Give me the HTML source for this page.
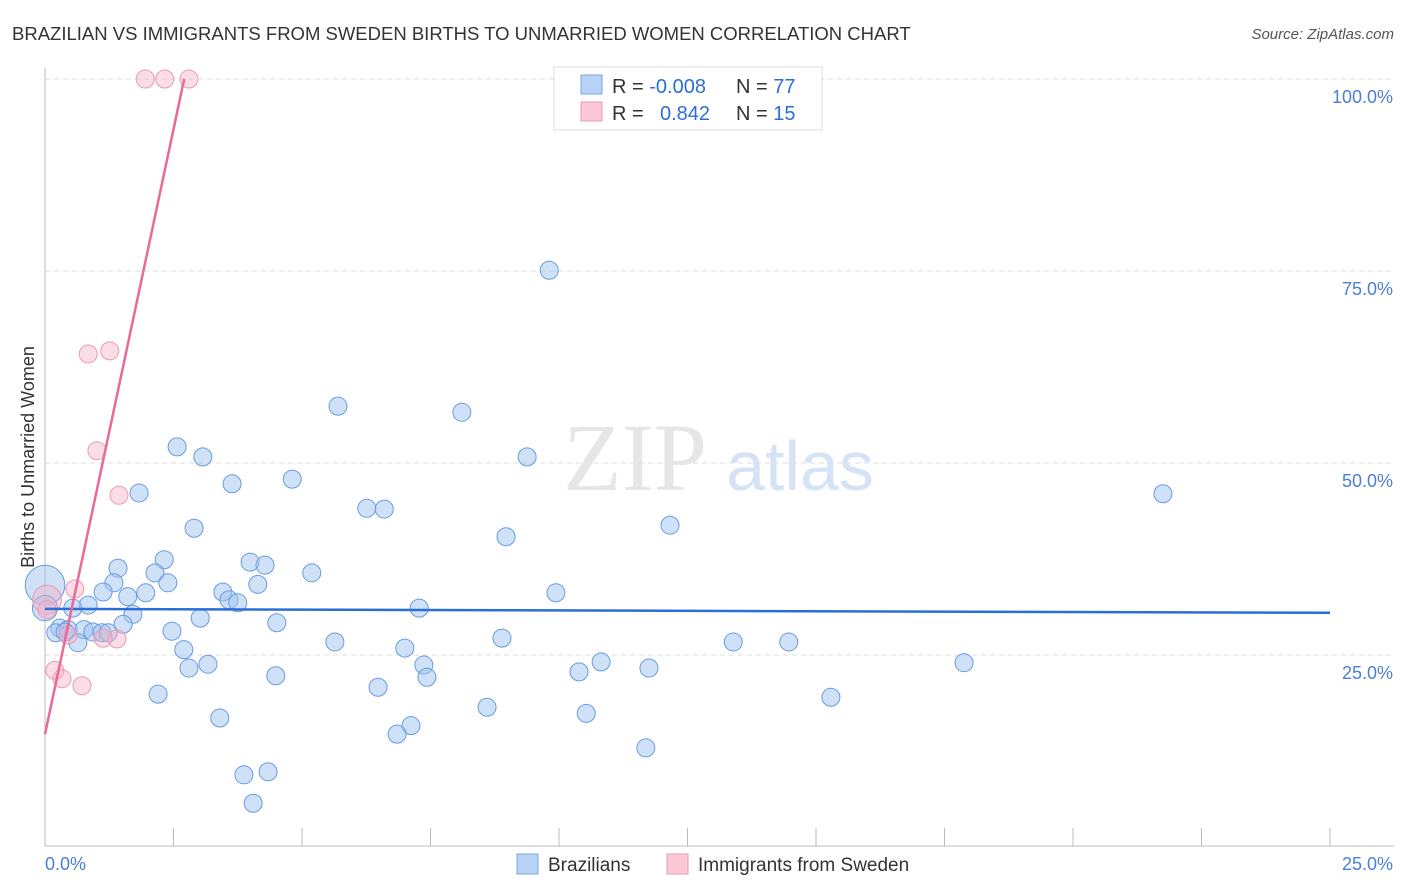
<!DOCTYPE html>
<html><head><meta charset="utf-8"><style>
body{margin:0;background:#fff;font-family:"Liberation Sans",sans-serif;}
svg{display:block}
</style></head><body>
<svg id="chart" width="1406" height="892">
<text x="12" y="40" font-size="18.5" fill="#333">BRAZILIAN VS IMMIGRANTS FROM SWEDEN BIRTHS TO UNMARRIED WOMEN CORRELATION CHART</text>
<text x="1394" y="39" font-size="15" fill="#555" font-style="italic" text-anchor="end">Source: ZipAtlas.com</text>
<g id="grid"></g>
<text x="635" y="490" font-size="96" fill="#e6e6e6" font-family="Liberation Serif,serif" text-anchor="middle">ZIP</text>
<text x="800" y="490" font-size="70" fill="#d5e3f5" text-anchor="middle">atlas</text>
<g id="marks"></g>
<text transform="translate(34,457) rotate(-90)" font-size="18" fill="#333" text-anchor="middle">Births to Unmarried Women</text>
<g>
<rect x="554" y="67" width="268" height="63" fill="#fff" stroke="#ddd"/>
<rect x="581" y="75" width="21" height="19" fill="#b8d2f5" stroke="#7aa6e6"/>
<rect x="581" y="102" width="21" height="19" fill="#fac8d6" stroke="#ee9ab4"/>
<text x="612" y="93" font-size="20" fill="#333">R = <tspan fill="#2a6fd6">-0.008</tspan></text>
<text x="736" y="93" font-size="20" fill="#333">N = <tspan fill="#2a6fd6">77</tspan></text>
<text x="612" y="120" font-size="20" fill="#333">R = <tspan fill="#2a6fd6" x="660">0.842</tspan></text>
<text x="736" y="120" font-size="20" fill="#333">N = <tspan fill="#2a6fd6">15</tspan></text>
</g>
<g>
<rect x="517" y="854" width="21" height="20" fill="#b8d2f5" stroke="#7aa6e6"/>
<text x="548" y="871" font-size="19" fill="#333">Brazilians</text>
<rect x="667" y="854" width="21" height="20" fill="#fac8d6" stroke="#ee9ab4"/>
<text x="698" y="871" font-size="19" fill="#333">Immigrants from Sweden</text>
</g>
</svg>
<script>
const xTicks=[0,2.5,5,7.5,10,12.5,15,17.5,20,22.5,25];
const yTicks=[25,50,75,100];
const yTickLabels=["25.0%","50.0%","75.0%","100.0%"];
const blueX=[9.81,5.70,8.11,2.57,3.07,9.38,3.64,4.81,1.83,21.75,6.26,6.60,2.90,12.16,8.97,2.32,3.99,4.28,1.42,2.14,5.19,1.34,2.39,4.14,3.46,1.13,1.96,1.61,3.58,3.75,9.94,0.84,0.54,7.28,1.71,3.02,1.52,4.51,0.29,0.45,0.76,0.93,1.11,1.23,2.47,0.21,0.64,5.64,8.89,13.39,14.47,7.00,2.70,3.17,10.82,2.80,7.37,7.43,11.75,10.39,4.49,17.88,6.48,2.20,15.29,8.60,10.53,3.40,7.12,6.85,11.69,3.87,4.34,4.05,0.0,0.0,0.39];
const blueY=[75.1,57.4,56.6,52.1,50.8,50.8,47.3,47.9,46.1,46.0,44.1,44.0,41.5,41.9,40.4,37.4,37.1,36.7,36.3,35.7,35.7,34.4,34.4,34.2,33.2,33.2,33.1,32.6,32.2,31.8,33.1,31.5,31.1,31.1,30.3,29.8,29.0,29.2,28.5,28.3,28.3,28.0,27.9,27.9,28.1,27.9,26.6,26.7,27.2,26.7,26.7,25.9,25.7,23.8,24.1,23.3,23.7,22.1,23.3,22.8,22.3,24.0,20.8,19.9,19.5,18.2,17.4,16.8,15.8,14.7,12.9,9.4,9.8,5.7,34.1,31.1,28.0];
const blueSize=[1,1,1,1,1,1,1,1,1,1,1,1,1,1,1,1,1,1,1,1,1,1,1,1,1,1,1,1,1,1,1,1,1,1,1,1,1,1,1,1,1,1,1,1,1,1,1,1,1,1,1,1,1,1,1,1,1,1,1,1,1,1,1,1,1,1,1,1,1,1,1,1,1,1,2.2,1.4,1];
const pinkX=[1.95,2.33,2.80,0.84,1.26,1.01,1.44,0.58,0.04,0.04,1.40,1.13,0.45,0.19,0.33,0.72];
const pinkY=[100,100,100,64.2,64.6,51.6,45.8,33.6,32.2,30.9,27.1,27.2,27.6,23.0,21.9,21.0];
const pinkSize=[1,1,1,1,1,1,1,1,1.6,1,1,1,1,1,1,1];
const blueTrend=[31.0,30.5];
const pinkTrend=[14.7,31.5];
const X=v=>45+v/25*1285, Y=v=>847-v/100*768;
const NS="http://www.w3.org/2000/svg";
function mk(tag,attrs,parent){const e=document.createElementNS(NS,tag);for(const k in attrs)e.setAttribute(k,attrs[k]);parent.appendChild(e);return e;}
const grid=document.getElementById('grid'), marks=document.getElementById('marks');
yTicks.forEach((t,i)=>{
 const l=mk('line',{x1:45,x2:1394,y1:Y(t),y2:Y(t),stroke:'#ddd','stroke-dasharray':'5,4'},grid);
 
 
 const tx=mk('text',{x:1393,y:Y(t)+24,'font-size':18,fill:'#4a7fd8','text-anchor':'end'},grid);
 tx.textContent=yTickLabels[i];
 
 
});
const ax=mk('line',{x1:45,x2:45,y1:68,y2:846,stroke:'#bbb'},grid);


const bx=mk('line',{x1:45,x2:1394,y1:846,y2:846,stroke:'#bbb'},grid);


xTicks.forEach(t=>{
 const l=mk('line',{x1:X(t),x2:X(t),y1:828,y2:846,stroke:'#bbb'},grid);
 
 
});
[[0,"0.0%","start",45],[25,"25.0%","end",1393]].forEach(a=>{
 const tx=mk('text',{x:a[3],y:870,'font-size':18,fill:'#4a7fd8','text-anchor':a[2]},grid);
 tx.textContent=a[1];
 
 
});
blueX.forEach((v,i)=>{
 const c=mk('circle',{cx:X(v),cy:Y(blueY[i]),r:9*blueSize[i],fill:'rgba(160,195,240,0.5)',stroke:'#6a9be0','stroke-width':1},marks);
 
 
});
pinkX.forEach((v,i)=>{
 const c=mk('circle',{cx:X(v),cy:Y(pinkY[i]),r:9*pinkSize[i],fill:'rgba(245,180,200,0.45)',stroke:'#eb9ab3','stroke-width':1},marks);
 
 
});
const bl=mk('line',{x1:X(0),y1:Y(blueTrend[0]),x2:X(25),y2:Y(blueTrend[1]),stroke:'#2a6fd6','stroke-width':2.5},marks);


const px2=(100-pinkTrend[0])/pinkTrend[1];
const pl=mk('line',{x1:X(0),y1:Y(pinkTrend[0]),x2:X(px2),y2:Y(100),stroke:'#e8699a','stroke-width':2.5},marks);


</script>
</body></html>
